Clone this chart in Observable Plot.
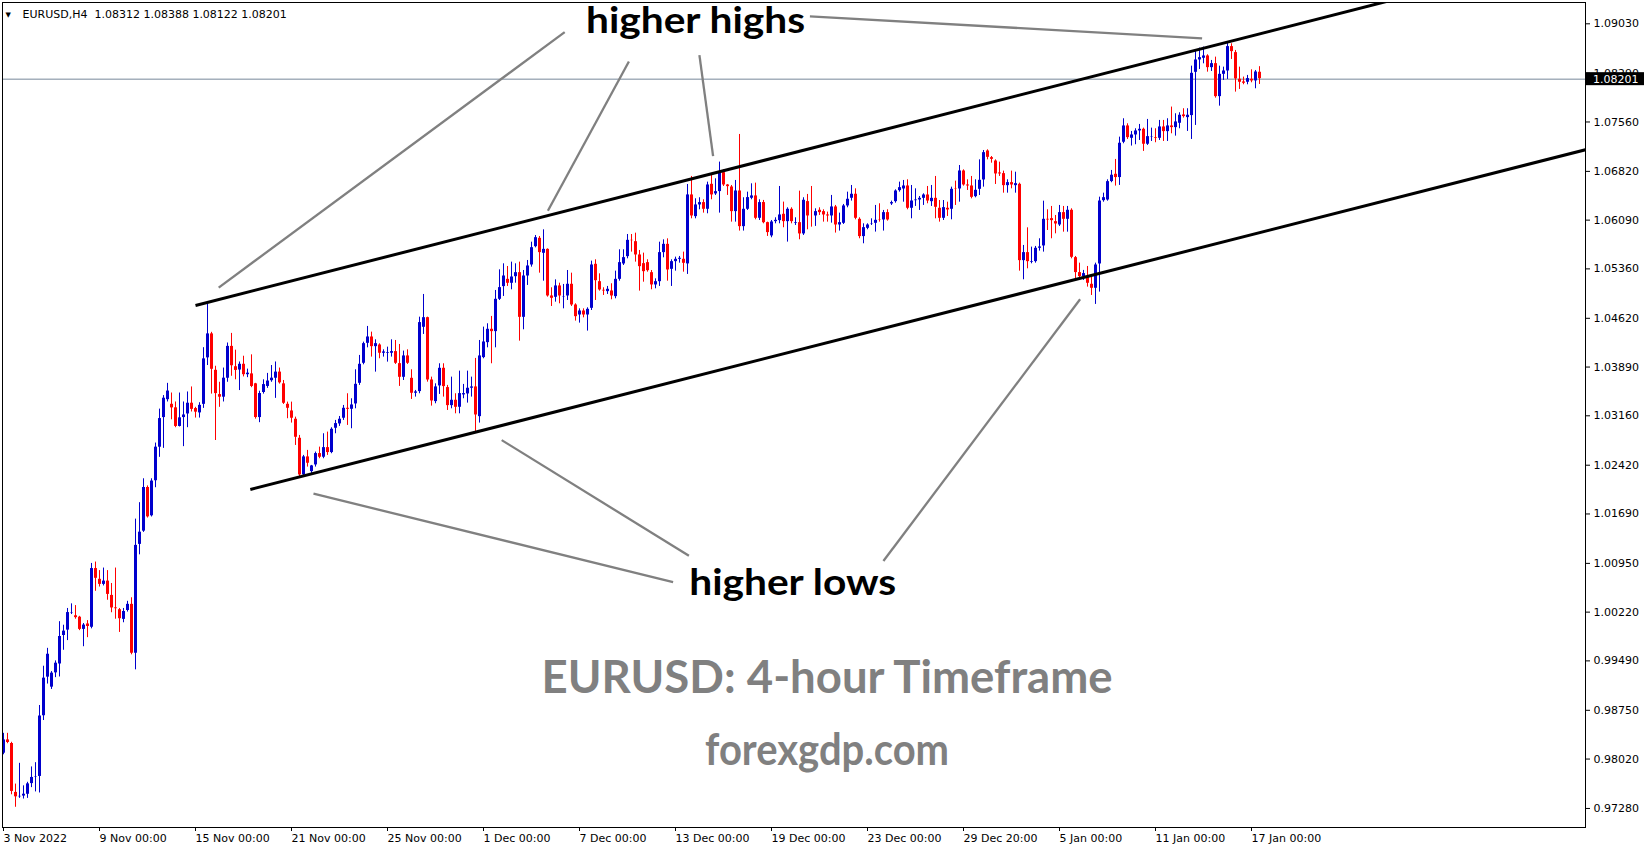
<!DOCTYPE html>
<html><head><meta charset="utf-8">
<script src="https://cdn.jsdelivr.net/npm/d3@7"></script>
<script src="https://cdn.jsdelivr.net/npm/@observablehq/plot@0.6"></script>
<style>
html,body{margin:0;padding:0;background:#fff;}
#chart svg{display:block;}
</style></head>
<body><div id="chart"></div>
<script>
// ---- data (EURUSD H4, one entry per 4-hour bar, bar index = position) ----
const open = [
0.98100,0.98314,0.98260,0.97528,0.97447,0.97458,0.97485,0.97645,0.97742,0.97752,
0.98661,0.99239,0.99089,0.99303,0.99436,0.99863,0.99943,1.00200,1.00173,1.00152,
0.99954,1.00050,0.99986,1.00880,1.00719,1.00628,1.00692,1.00478,1.00291,1.00264,
1.00104,1.00237,1.00344,0.99597,1.01227,1.01425,1.02094,1.01655,1.02180,1.02682,
1.03126,1.03394,1.03340,1.03287,1.02993,1.03126,1.03180,1.03356,1.03276,1.03196,
1.03324,1.04020,1.04394,1.03849,1.03485,1.03431,1.03715,1.04207,1.03902,1.03838,
1.03939,1.03768,1.03795,1.03646,1.03126,1.03501,1.03592,1.03678,1.03715,1.03822,
1.03646,1.03340,1.03240,1.03116,1.02831,1.02267,1.02552,1.02317,1.02417,1.02602,
1.02532,1.02691,1.02602,1.02966,1.03031,1.03116,1.03280,1.03250,1.03330,1.03639,
1.03939,1.04238,1.04348,1.04188,1.04228,1.04089,1.04089,1.04089,1.04129,1.03949,
1.03729,1.04064,1.03729,1.03490,1.03515,1.04478,1.04637,1.03704,1.03365,1.03600,
1.03879,1.03590,1.03305,1.03400,1.03280,1.03465,1.03480,1.03565,1.03600,1.03140,
1.04024,1.04248,1.04463,1.04413,1.04897,1.05087,1.05211,1.05137,1.05236,1.05311,
1.04627,1.05246,1.05411,1.05685,1.05825,1.05586,1.05660,1.04962,1.04927,1.05112,
1.04937,1.04947,1.05137,1.04827,1.04662,1.04737,1.04662,1.04762,1.05436,1.05176,
1.05047,1.05012,1.05037,1.04937,1.05196,1.05426,1.05536,1.05795,1.05775,1.05576,
1.05446,1.05461,1.05311,1.05112,1.05161,1.05596,1.05735,1.05346,1.05461,1.05496,
1.05511,1.05427,1.06475,1.06135,1.06310,1.06360,1.06245,1.06634,1.06475,1.06510,
1.06809,1.06624,1.06594,1.06210,1.06534,1.05985,1.06245,1.06410,1.06460,1.06110,
1.06360,1.06060,1.05846,1.06060,1.06075,1.06185,1.06060,1.06260,1.06035,1.06060,
1.05876,1.06375,1.06160,1.06145,1.06245,1.06225,1.06175,1.06145,1.06295,1.06010,
1.06035,1.06295,1.06410,1.06485,1.06110,1.05836,1.05960,1.06025,1.06035,1.06105,
1.06085,1.06210,1.06325,1.06359,1.06524,1.06549,1.06609,1.06260,1.06374,1.06384,
1.06409,1.06474,1.06359,1.06424,1.06275,1.06110,1.06275,1.06245,1.06569,1.06549,
1.06834,1.06624,1.06609,1.06434,1.06544,1.06684,1.07133,1.07033,1.06983,1.06804,
1.06794,1.06599,1.06659,1.06599,1.06634,1.05476,1.05611,1.05451,1.05461,1.05661,
1.05696,1.06110,1.06120,1.06075,1.06010,1.06210,1.06095,1.06245,1.05536,1.05312,
1.05237,1.05237,1.05137,1.05062,1.05426,1.06374,1.06384,1.06660,1.06784,1.06720,
1.07249,1.07508,1.07308,1.07358,1.07418,1.07458,1.07219,1.07323,1.07333,1.07308,
1.07493,1.07408,1.07508,1.07468,1.07533,1.07673,1.07618,1.07648,1.08296,1.08481,
1.08506,1.08556,1.08366,1.08441,1.07932,1.08266,1.08316,1.08696,1.08606,1.08207,
1.08167,1.08147,1.08207,1.08167,1.08312];
const high = [
0.98405,0.98405,0.98271,0.97645,0.97956,0.97619,0.97672,0.97902,0.97966,0.98822,
0.99410,0.99678,0.99330,0.99490,1.00077,1.00024,1.00275,1.00344,1.00318,1.00157,
1.00050,1.00093,1.00949,1.00970,1.00842,1.00880,1.00842,1.00649,1.00880,1.00275,
1.00275,1.00382,1.00435,1.01613,1.01859,1.02217,1.02110,1.02217,1.02752,1.03260,
1.03463,1.03646,1.03501,1.03367,1.03501,1.03367,1.03517,1.03592,1.03287,1.03356,
1.04180,1.04838,1.04410,1.03902,1.03662,1.03875,1.04250,1.04394,1.04143,1.03966,
1.04052,1.03859,1.04073,1.03646,1.03528,1.03699,1.03795,1.03913,1.03966,1.03875,
1.03689,1.03365,1.03365,1.03140,1.02866,1.02567,1.02642,1.02417,1.02617,1.02691,
1.02891,1.02916,1.02981,1.03091,1.03150,1.03315,1.03490,1.03415,1.03849,1.04064,
1.04263,1.04498,1.04413,1.04298,1.04238,1.04148,1.04188,1.04298,1.04288,1.04228,
1.04129,1.04148,1.03849,1.03540,1.04637,1.04977,1.04637,1.03739,1.03639,1.03939,
1.03939,1.03615,1.03739,1.03490,1.03829,1.03630,1.03829,1.03739,1.04019,1.04288,
1.04488,1.04538,1.04648,1.05037,1.05346,1.05436,1.05396,1.05461,1.05436,1.05461,
1.05336,1.05486,1.05760,1.05860,1.05845,1.05945,1.05660,1.05077,1.05196,1.05146,
1.05127,1.05336,1.05296,1.04837,1.04762,1.04762,1.04777,1.05476,1.05496,1.05286,
1.05077,1.05097,1.05137,1.05326,1.05646,1.05646,1.05875,1.05875,1.05895,1.05636,
1.05596,1.05496,1.05336,1.05211,1.05760,1.05795,1.05810,1.05496,1.05536,1.05546,
1.05611,1.06624,1.06744,1.06410,1.06425,1.06395,1.06659,1.06774,1.06709,1.06959,
1.06844,1.06624,1.06609,1.06684,1.07373,1.06425,1.06509,1.06634,1.06644,1.06395,
1.06385,1.06060,1.06085,1.06125,1.06594,1.06360,1.06275,1.06275,1.06125,1.06524,
1.06425,1.06475,1.06594,1.06260,1.06275,1.06245,1.06210,1.06460,1.06310,1.06195,
1.06325,1.06509,1.06609,1.06559,1.06125,1.06035,1.06035,1.06110,1.06310,1.06335,
1.06235,1.06245,1.06375,1.06544,1.06659,1.06684,1.06694,1.06609,1.06559,1.06444,
1.06484,1.06594,1.06609,1.06744,1.06384,1.06384,1.06359,1.06584,1.06674,1.06908,
1.06843,1.06694,1.06744,1.06694,1.06993,1.07133,1.07143,1.07043,1.06993,1.06958,
1.06824,1.06694,1.06824,1.06808,1.06644,1.05711,1.05975,1.05686,1.05696,1.05811,
1.06374,1.06245,1.06295,1.06160,1.06310,1.06295,1.06295,1.06260,1.05546,1.05446,
1.05337,1.05396,1.05237,1.05446,1.06434,1.06494,1.06694,1.06834,1.06999,1.07333,
1.07608,1.07533,1.07418,1.07458,1.07523,1.07468,1.07598,1.07468,1.07458,1.07583,
1.07583,1.07608,1.07783,1.07683,1.07698,1.07758,1.07758,1.08396,1.08616,1.08666,
1.08681,1.08566,1.08481,1.08531,1.08396,1.08381,1.08765,1.08731,1.08631,1.08381,
1.08232,1.08257,1.08341,1.08331,1.08388];
const low = [
0.98084,0.98250,0.97485,0.97298,0.97431,0.97421,0.97431,0.97592,0.97528,0.97512,
0.98597,0.99143,0.99062,0.99239,0.99249,0.99649,0.99794,1.00184,1.00114,0.99943,
0.99702,0.99838,0.99970,1.00532,1.00596,1.00612,1.00398,1.00211,1.00114,0.99916,
1.00061,1.00221,0.99581,0.99356,1.01078,1.01414,1.01629,1.01645,1.02083,1.02538,
1.02672,1.03367,1.03100,1.02982,1.02993,1.02698,1.02982,1.03217,1.03126,1.03126,
1.03271,1.03913,1.03485,1.02790,1.03287,1.03367,1.03662,1.03752,1.03699,1.03538,
1.03742,1.03731,1.03581,1.03110,1.03057,1.03485,1.03571,1.03662,1.03421,1.03635,
1.03330,1.03116,1.03051,1.02716,1.02242,1.02242,1.02392,1.02292,1.02392,1.02517,
1.02517,1.02567,1.02592,1.02891,1.03001,1.03091,1.03016,1.02966,1.03265,1.03615,
1.03924,1.04178,1.04039,1.03814,1.04014,1.04039,1.03964,1.04039,1.03929,1.03600,
1.03689,1.03929,1.03405,1.03440,1.03490,1.04378,1.03664,1.03305,1.03340,1.03480,
1.03440,1.03240,1.03265,1.03190,1.03190,1.03415,1.03350,1.03440,1.02926,1.03051,
1.04014,1.04178,1.03939,1.04178,1.04887,1.04947,1.05097,1.05047,1.05146,1.04278,
1.04448,1.05112,1.05386,1.05675,1.05296,1.05176,1.04937,1.04797,1.04862,1.04837,
1.04762,1.04887,1.04797,1.04578,1.04548,1.04627,1.04428,1.04737,1.04887,1.05027,
1.04962,1.04977,1.04897,1.04912,1.05176,1.05411,1.05511,1.05611,1.05461,1.05027,
1.05161,1.05311,1.05047,1.05062,1.05097,1.05526,1.05176,1.05097,1.05326,1.05446,
1.05311,1.05277,1.06110,1.06110,1.06245,1.06195,1.06185,1.06395,1.06460,1.06195,
1.06594,1.06460,1.06060,1.06060,1.05926,1.05926,1.06235,1.06395,1.06095,1.06085,
1.06035,1.05846,1.05826,1.06035,1.06035,1.05976,1.05761,1.06035,1.06010,1.05796,
1.05861,1.05946,1.05985,1.05996,1.06160,1.06060,1.06060,1.06045,1.05896,1.05926,
1.06025,1.06275,1.06375,1.06095,1.05811,1.05736,1.05946,1.06010,1.05911,1.06060,
1.05926,1.06075,1.06310,1.06344,1.06509,1.06359,1.06245,1.06110,1.06295,1.06235,
1.06310,1.06335,1.06295,1.06110,1.06060,1.06085,1.06145,1.06095,1.06310,1.06359,
1.06599,1.06534,1.06409,1.06424,1.06459,1.06584,1.06993,1.06943,1.06624,1.06744,
1.06494,1.06494,1.06559,1.06494,1.05326,1.05197,1.05361,1.05436,1.05446,1.05626,
1.05611,1.05935,1.05811,1.05885,1.05995,1.05910,1.05910,1.05511,1.05212,1.05187,
1.05187,1.05087,1.04962,1.04828,1.05012,1.06359,1.06374,1.06650,1.06600,1.06610,
1.07234,1.07298,1.07199,1.07219,1.07283,1.07119,1.07209,1.07268,1.07249,1.07283,
1.07268,1.07268,1.07383,1.07348,1.07458,1.07618,1.07418,1.07298,1.07508,1.08346,
1.08431,1.08306,1.08316,1.07917,1.07797,1.08182,1.08197,1.08496,1.08007,1.08047,
1.08117,1.08117,1.08147,1.08057,1.08122];
const close = [
0.98314,0.98260,0.97528,0.97447,0.97469,0.97501,0.97656,0.97752,0.97763,0.98672,
0.99239,0.99597,0.99314,0.99463,0.99863,0.99943,1.00221,1.00221,1.00130,0.99954,
1.00034,0.99997,1.00880,1.00719,1.00628,1.00692,1.00478,1.00275,1.00264,1.00114,
1.00237,1.00344,0.99597,1.01227,1.01425,1.02094,1.01639,1.02190,1.02698,1.03126,
1.03431,1.03538,1.03271,1.02993,1.03137,1.03180,1.03356,1.03249,1.03207,1.03324,
1.04020,1.04394,1.03849,1.03485,1.03431,1.03731,1.04207,1.03902,1.03832,1.03939,
1.03768,1.03806,1.03592,1.03126,1.03501,1.03635,1.03688,1.03731,1.03822,1.03646,
1.03340,1.03265,1.03116,1.02831,1.02267,1.02552,1.02442,1.02417,1.02602,1.02532,
1.02691,1.02602,1.02966,1.03051,1.03116,1.03280,1.03250,1.03330,1.03639,1.03939,
1.04248,1.04348,1.04188,1.04248,1.04089,1.04124,1.04114,1.04129,1.03939,1.03729,
1.04064,1.03939,1.03490,1.03525,1.04563,1.04637,1.03689,1.03375,1.03600,1.03879,
1.03590,1.03305,1.03400,1.03280,1.03500,1.03500,1.03580,1.03600,1.03165,1.04064,
1.04273,1.04463,1.04413,1.04912,1.05087,1.05261,1.05137,1.05246,1.05311,1.04627,
1.05261,1.05411,1.05685,1.05835,1.05596,1.05660,1.04947,1.04912,1.05112,1.04947,
1.04947,1.05137,1.04812,1.04637,1.04737,1.04662,1.04762,1.05426,1.05176,1.05037,
1.05022,1.05062,1.04947,1.05211,1.05461,1.05536,1.05795,1.05775,1.05561,1.05386,
1.05311,1.05326,1.05112,1.05176,1.05611,1.05735,1.05336,1.05476,1.05511,1.05526,
1.05436,1.06475,1.06145,1.06325,1.06360,1.06245,1.06624,1.06460,1.06524,1.06809,
1.06609,1.06584,1.06210,1.06534,1.05985,1.06260,1.06435,1.06460,1.06110,1.06360,
1.06045,1.05896,1.06070,1.06095,1.06175,1.06060,1.06260,1.06060,1.06060,1.05876,
1.06395,1.06145,1.06145,1.06225,1.06195,1.06160,1.06145,1.06295,1.06010,1.06060,
1.06310,1.06410,1.06485,1.06110,1.05836,1.05985,1.06025,1.06045,1.06095,1.06085,
1.06210,1.06085,1.06360,1.06534,1.06584,1.06609,1.06260,1.06384,1.06399,1.06424,
1.06474,1.06369,1.06424,1.06275,1.06110,1.06285,1.06235,1.06559,1.06549,1.06834,
1.06609,1.06594,1.06424,1.06544,1.06694,1.07108,1.07023,1.06993,1.06774,1.06774,
1.06599,1.06659,1.06609,1.06644,1.05476,1.05611,1.05461,1.05476,1.05676,1.05696,
1.06110,1.06085,1.06075,1.06025,1.06210,1.06095,1.06245,1.05526,1.05297,1.05237,
1.05297,1.05137,1.05062,1.05426,1.06384,1.06434,1.06674,1.06770,1.06720,1.07249,
1.07508,1.07318,1.07373,1.07433,1.07458,1.07219,1.07348,1.07343,1.07308,1.07493,
1.07408,1.07508,1.07468,1.07568,1.07668,1.07633,1.07668,1.08296,1.08496,1.08531,
1.08556,1.08366,1.08441,1.07932,1.08281,1.08331,1.08696,1.08606,1.08197,1.08147,
1.08132,1.08217,1.08167,1.08316,1.08201];

const xTickBars = [0,24,48,72,96,120,144,168,192,216,240,264,288,312];
const xTickLabels = ["3 Nov 2022","9 Nov 00:00","15 Nov 00:00","21 Nov 00:00","25 Nov 00:00","1 Dec 00:00","7 Dec 00:00",
  "13 Dec 00:00","19 Dec 00:00","23 Dec 00:00","29 Dec 20:00","5 Jan 00:00","11 Jan 00:00","17 Jan 00:00"];
const yTickValues = [1.09030,1.08290,1.07560,1.06820,1.06090,1.05360,1.04620,1.03890,1.03160,1.02420,
  1.01690,1.00950,1.00220,0.99490,0.98750,0.98020,0.97280];
const symbol = "EURUSD,H4";
const lastBar = [1.08312, 1.08388, 1.08122, 1.08201];
const lastPrice = 1.08201;

// channel trend lines (bar index, price)
const channelStart = [[48, 1.04812], [61.7, 1.02057]];
const channelEnd = [[360, 1.09582], [400, 1.07213]];
// annotation pointer lines (bar index, price)
const pointerFrom = [[140.3,1.08906],[156.35,1.08466],[173.98,1.08560],[201.6,1.09142],[167.4,1.00670],[171.35,1.01064],[219.98,1.00985]];
const pointerTo   = [[53.8,1.05080],[136.1,1.06230],[177.4,1.07048],[299.65,1.08812],[77.5,1.01994],[124.55,1.02796],[269.15,1.04906]];
// annotation texts anchored at (bar index, price)
const noteLabels = ["higher highs","higher lows"];
const notePos = [[173.0,1.08891],[197.3,1.00470]];
const titleLabels = ["EURUSD: 4-hour Timeframe","forexgdp.com"];
const titlePos = [[205.9,0.99002],[205.9,0.97924]];

// ---- build tables ----
const candles = open.map((o, i) => ({i, o, h: high[i], l: low[i], c: close[i]}));
const channels = channelStart.map((s, k) => ({x1: s[0], y1: s[1], x2: channelEnd[k][0], y2: channelEnd[k][1]}));
const pointers = pointerFrom.map((s, k) => ({x1: s[0], y1: s[1], x2: pointerTo[k][0], y2: pointerTo[k][1]}));
const notes = noteLabels.map((t, k) => ({t, x: notePos[k][0], y: notePos[k][1]}));
const titles = titleLabels.map((t, k) => ({t, x: titlePos[k][0], y: titlePos[k][1]}));
const tickLabel = new Map(xTickBars.map((b, k) => [b, xTickLabels[k]]));

const BULL = "#0000CD", BEAR = "#FF0000";
const col = d => d.c >= d.o ? BULL : BEAR;

const chart = Plot.plot({
  width: 1649, height: 850,
  marginLeft: 2, marginRight: 64, marginTop: 2, marginBottom: 23,
  x: {domain: [-0.25, 395.5]},
  y: {domain: [0.96995, 1.09349]},
  style: {fontFamily: "DejaVu Sans", fontSize: "11px", color: "#000", background: "#fff", overflow: "visible"},
  marks: [
    Plot.ruleY([lastPrice], {stroke: "#778899", strokeWidth: 1}),
    Plot.ruleX(candles, {x: "i", y1: "l", y2: "h", stroke: col, strokeWidth: 1}),
    Plot.ruleX(candles, {x: "i", y1: d => Math.min(d.o, d.c), y2: d => Math.max(d.o, d.c), stroke: col, strokeWidth: 3, insetTop: -0.5, insetBottom: -0.5}),
    Plot.link(channels, {x1: "x1", y1: "y1", x2: "x2", y2: "y2", stroke: "#000", strokeWidth: 3, clip: true}),
    Plot.link(pointers, {x1: "x1", y1: "y1", x2: "x2", y2: "y2", stroke: "#808080", strokeWidth: 2.3}),
    Plot.text(notes, {x: "x", y: "y", text: "t", textAnchor: "middle", lineAnchor: "bottom", fontFamily: "Lato", fontWeight: "bold", fontSize: 37, fill: "#000"}),
    Plot.text(titles.slice(0,1), {x: "x", y: "y", text: "t", textAnchor: "middle", lineAnchor: "bottom", fontFamily: "Lato", fontWeight: "bold", fontSize: 46, fill: "#808080"}),
    Plot.text(titles.slice(1), {x: "x", y: "y", text: "t", textAnchor: "middle", lineAnchor: "bottom", fontFamily: "Lato", fontWeight: "bold", fontSize: 43, fill: "#808080"}),
    Plot.text([symbol + "\u00a0\u00a0" + lastBar.map(v => v.toFixed(5)).join(" ")], {frameAnchor: "top-left", dx: 20, dy: 8, textAnchor: "start", lineAnchor: "top", fontSize: 11, fill: "#000"}),
    Plot.text(["\u25BC"], {frameAnchor: "top-left", dx: 3, dy: 10, textAnchor: "start", lineAnchor: "top", fontSize: 7, fill: "#000"}),
    Plot.frame({stroke: "#000"}),
    Plot.axisY({anchor: "right", ticks: yTickValues, tickFormat: d => d.toFixed(5), tickSize: 4, tickPadding: 4, label: null}),
    Plot.axisX({anchor: "bottom", ticks: xTickBars, tickFormat: d => tickLabel.get(d), textAnchor: "start", tickSize: 4, tickPadding: 3, label: null})
  ]
});
document.getElementById("chart").append(chart);

// fit big annotation texts to the reference widths
const fitWidth = {"higher highs": 219, "higher lows": 207, "EURUSD: 4-hour Timeframe": 571, "forexgdp.com": 244};
d3.select(chart).selectAll("text").each(function() {
  const w = fitWidth[this.textContent];
  if (w) { this.setAttribute("textLength", w); this.setAttribute("lengthAdjust", "spacingAndGlyphs"); }
});

// current-price label on the right scale
const yPx = chart.scale("y").apply(lastPrice);
const svg = d3.select(chart);
svg.append("rect").attr("x", 1586).attr("y", yPx - 6.5).attr("width", 58).attr("height", 13).attr("fill", "#000");
svg.append("text").attr("x", 1593).attr("y", yPx).attr("dy", "0.35em").attr("fill", "#fff")
  .attr("text-anchor", "start")
  .attr("font-family", "DejaVu Sans").attr("font-size", 11).text(lastPrice.toFixed(5));
</script>
</body></html>
